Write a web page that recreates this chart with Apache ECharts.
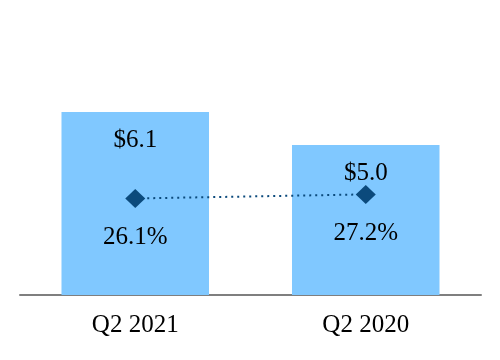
<!DOCTYPE html>
<html>
<head>
<meta charset="utf-8">
<script src="https://cdn.jsdelivr.net/npm/echarts@6/dist/echarts.min.js"></script>
<style>html,body{margin:0;padding:0;background:#fff}#c{width:500px;height:360px}</style>
</head>
<body>
<div id="c"></div>
<script>
const categories = ['Q2 2021', 'Q2 2020'];
const revenue = [6.1, 5.0];
const margin = [26.1, 27.2];

const font = "'Liberation Serif', 'Times New Roman', serif";
const chart = echarts.init(document.getElementById('c'), null, {renderer: 'canvas'});
chart.setOption({
  animation: false,
  backgroundColor: '#ffffff',
  grid: {left: 20, right: 19, top: 25, bottom: 65},
  xAxis: {
    type: 'category',
    data: categories,
    axisLine: {lineStyle: {color: '#7f7f7f', width: 2}},
    axisTick: {show: false},
    axisLabel: {fontSize: 25, fontFamily: font, color: '#000', margin: 18}
  },
  yAxis: [
    {type: 'value', min: 0, max: 9, show: false, splitLine: {show: false}},
    {type: 'value', min: 0, max: 73, show: false, splitLine: {show: false}}
  ],
  series: [
    {
      type: 'bar',
      data: revenue,
      barWidth: '64%',
      itemStyle: {color: '#80C8FF'},
      label: {
        show: true, position: 'insideTop', distance: 16,
        fontSize: 25, fontFamily: font, color: '#000',
        formatter: p => '$' + p.value.toFixed(1)
      },
      z: 1
    },
    {
      type: 'line',
      yAxisIndex: 1,
      data: margin,
      symbol: 'diamond',
      symbolSize: [20, 19],
      itemStyle: {color: '#0B4A7C'},
      lineStyle: {color: '#0B4A7C', width: 2, type: [2, 4]},
      label: {
        show: true, position: 'bottom', distance: 17,
        fontSize: 25, fontFamily: font, color: '#000',
        formatter: p => p.value.toFixed(1) + '%'
      },
      z: 3
    }
  ]
});
</script>
</body>
</html>
